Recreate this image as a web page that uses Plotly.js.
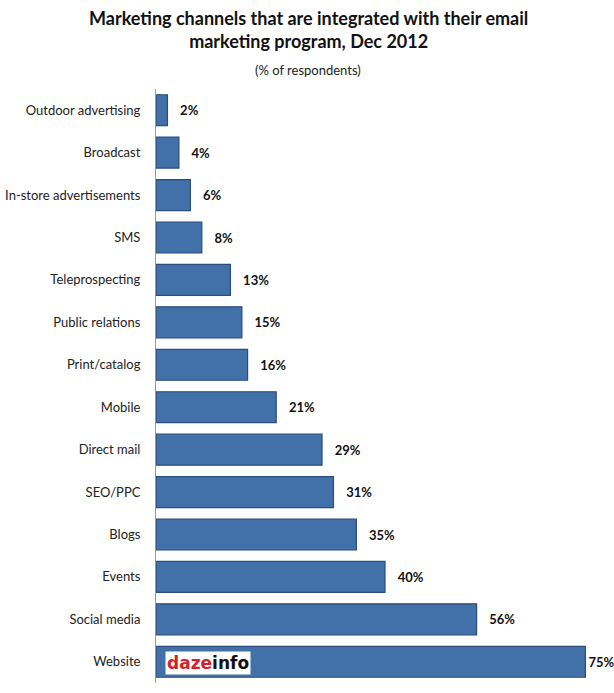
<!DOCTYPE html>
<html>
<head>
<meta charset="utf-8">
<script src="https://cdn.plot.ly/plotly-3.0.1.min.js"></script>
<style>html,body{margin:0;padding:0;background:#fff;}#chart{width:614px;height:693px;}</style>
</head>
<body>
<div id="chart"></div>
<script>
const categories = ["Outdoor advertising","Broadcast","In-store advertisements","SMS","Teleprospecting","Public relations","Print/catalog","Mobile","Direct mail","SEO/PPC","Blogs","Events","Social media","Website"];
const values = [2,4,6,8,13,15,16,21,29,31,35,40,56,75];
const valueLabels = values.map((v, i) => (i === values.length - 1 ? "" : "\u2002 ") + v + "%");

const trace = {
  type: "bar",
  orientation: "h",
  y: categories,
  x: values,
  text: valueLabels,
  textposition: "outside",
  cliponaxis: false,
  textfont: {family: "Lato, 'Open Sans', sans-serif", size: 13, color: "#111", weight: "bold"},
  marker: {color: "#4270a8", line: {color: "#2a4d7c", width: 1.2}},
  hoverinfo: "none"
};

const layout = {
  width: 614, height: 693,
  margin: {l: 156, r: 0, t: 89, b: 10},
  paper_bgcolor: "#fff", plot_bgcolor: "#fff",
  showlegend: false,
  bargap: 0.27,
  font: {family: "Lato, 'Open Sans', sans-serif", size: 13, color: "#222"},
  xaxis: {range: [0, 80], showgrid: false, zeroline: false, showticklabels: false, showline: false, fixedrange: true},
  yaxis: {autorange: "reversed", showgrid: false, zeroline: false, showline: true, linecolor: "#999", linewidth: 1,
          ticks: "", ticklabelstandoff: 12, tickfont: {size: 13, color: "#222"}},
  annotations: [
    {text: "<b>Marketing channels that are integrated with their email<br>marketing program, Dec 2012</b>", xref: "paper", yref: "paper", x: 0.5, y: 1, xanchor: "center", yanchor: "bottom",
     xshift: -77, yshift: 35, showarrow: false, font: {size: 18, color: "#111"}, align: "center"},
    {text: "(% of respondents)", xref: "paper", yref: "paper", x: 0.5, y: 1, xanchor: "center", yanchor: "bottom",
     xshift: -77, yshift: 9, showarrow: false, font: {size: 13, color: "#222"}},
    {text: "<b><span style='color:#d6202a'>daz</span><span style='color:#d6202a'>e</span><span style='color:#111'>info</span></b>", xref: "paper", yref: "paper", x: 0, y: 0, xanchor: "left", yanchor: "bottom",
     xshift: 9, yshift: 8, showarrow: false, bgcolor: "#fff", font: {size: 17, family: "'DejaVu Sans', sans-serif"}, borderpad: 1}
  ]
};

Plotly.newPlot("chart", [trace], layout, {displayModeBar: false, staticPlot: true});
</script>
</body>
</html>
